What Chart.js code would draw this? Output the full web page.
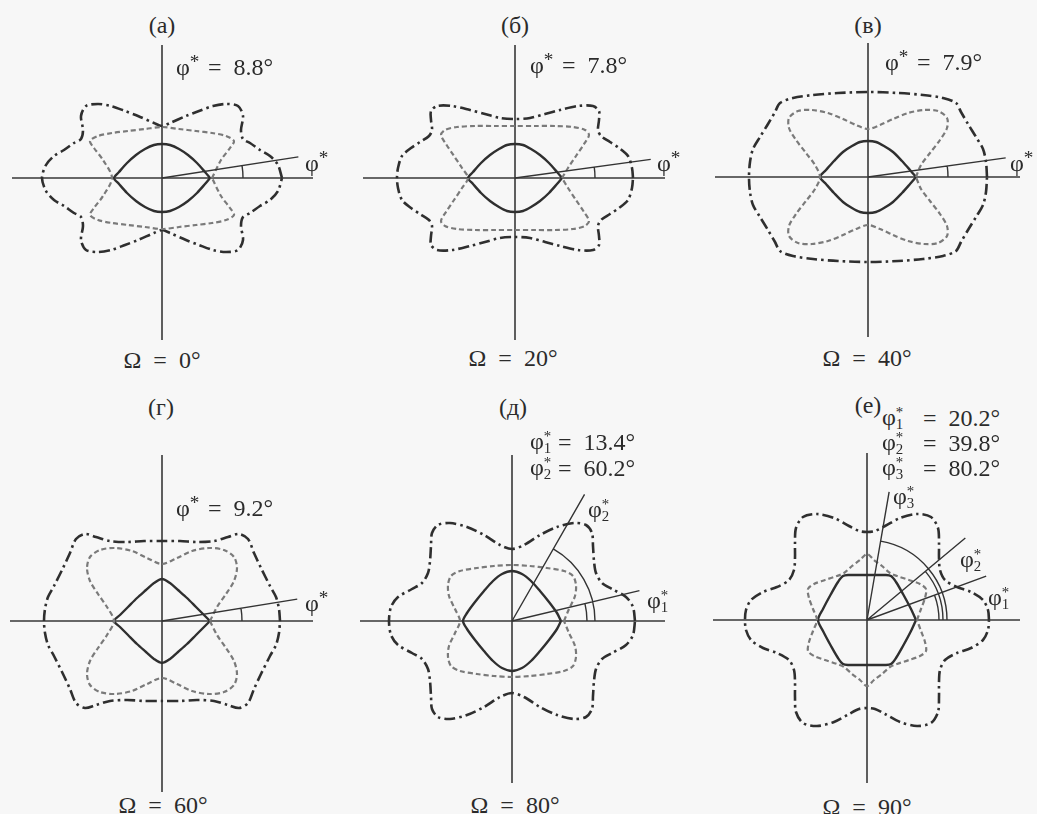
<!DOCTYPE html>
<html>
<head>
<meta charset="utf-8">
<title>Ω</title>
<script src="https://cdn.jsdelivr.net/npm/chart.js@4.4.1/dist/chart.umd.min.js"></script>
<style>
  body { margin: 0; width: 1037px; height: 814px; position: relative; overflow: hidden;
         background: #f7f7f7; color: #2b2b2b; }
  .panel { position: absolute; }
  .lbl { position: absolute; font-family: "Liberation Serif", "DejaVu Serif", serif;
         font-size: 24px; line-height: 1; white-space: nowrap; word-spacing: 6px; }
  .st { font-size: 0.8em; position: relative; top: -0.35em; }
  .ix { display: inline-block; font-size: 0.62em; line-height: 0.8; vertical-align: -0.25em; text-align: center; }
  .ix span { display: block; }
</style>
</head>
<body>
<script>
// Angle of incidence Ω for each sheet
const omegaValues = [0, 20, 40, 60, 80, 90];

// Marked directions φ*, degrees
const phiA = [8.8];
const phiB = [7.8];
const phiC = [7.9];
const phiD = [9.2];
const phiE = [13.4, 60.2];
const phiF = [20.2, 39.8, 80.2];

// One quadrant of each closed curve, [x, y], from the +x axis round to the +y axis
const solidA   = [[48,0],[43,6],[35,15],[26,23],[17,29],[8,33],[0,34]];
const dashedA  = [[50,0],[59,18],[68,30],[72,37],[64,42],[50,45],[34,47],[17,49],[0,51]];
const dashDotA = [[120,0],[116,13],[108,22],[98,28],[88,35],[81,39],[79,48],[81,62],[76,72],[64,74],[51,72],[37,67],[24,62],[8,55],[0,52]];

const solidB   = [[47,0],[42,6],[34,15],[25,23],[16,29],[8,33],[0,34]];
const dashedB  = [[47,0],[53,10],[61,22],[69,34],[74,43],[70,48],[58,51],[40,52],[20,52],[0,52]];
const dashDotB = [[118,0],[117,10],[113,22],[104,30],[95,36],[86,42],[83,48],[84,58],[84,67],[78,72],[63,72],[45,68],[30,64],[15,60],[0,59]];

const solidC   = [[48,0],[42,7],[34,16],[25,25],[16,31],[8,35],[0,36]];
const dashedC  = [[48,0],[53,12],[62,24],[72,37],[79,49],[79,59],[70,66],[56,67],[40,64],[25,58],[12,52],[0,48]];
const dashDotC = [[119,0],[118,15],[115,28],[108,40],[100,53],[93,65],[88,74],[75,79],[55,82],[30,84],[0,85]];

const solidD   = [[48,0],[42,6],[34,14],[25,23],[16,31],[8,38],[0,42]];
const dashedD  = [[48,0],[55,14],[64,27],[72,40],[75,53],[72,64],[62,71],[47,73],[30,70],[15,63],[0,57]];
const dashDotD = [[118,0],[117,12],[114,24],[108,35],[99,53],[92,68],[86,82],[77,87],[66,84],[52,80],[35,79],[18,80],[0,80]];

const solidE   = [[49,0],[45,8],[37,19],[28,30],[19,40],[10,47],[0,50]];
const dashedE  = [[52,0],[57,12],[63,25],[64,36],[61,45],[52,50],[35,53],[18,55],[0,56]];
const dashDotE = [[123,0],[121,14],[114,24],[100,32],[90,38],[84,48],[82,60],[81,75],[80,88],[74,96],[62,98],[45,94],[28,86],[12,76],[0,72]];

const solidF   = [[49,0],[44,11],[36,26],[29,38],[24,44],[18,45],[9,45],[0,45]];
const dashedF  = [[50,0],[54,11],[58,22],[59,31],[53,36],[42,40],[30,44],[23,47],[15,54],[7,60],[0,66]];
const dashDotF = [[122,0],[121,10],[116,20],[104,28],[90,33],[78,40],[73,50],[72,62],[72,77],[71,92],[64,103],[50,106],[33,102],[18,94],[8,89],[0,88]];

// layout: centre, axis reach [left, right, up, down], ray lengths, arc radii, label spots
const panels = [
  { title: '(а)', omega: omegaValues[0], phi: phiA, solid: solidA, dashed: dashedA, dashDot: dashDotA,
    cx: 162, cy: 178, reach: [150, 151, 133, 162], rays: [138], arcs: [81],
    titleAt: [162, 25], valAt: [176, 67], eqGap: 32, rayLbl: [[305, 163]], omegaAt: [162, 360] },
  { title: '(б)', omega: omegaValues[1], phi: phiB, solid: solidB, dashed: dashedB, dashDot: dashDotB,
    cx: 515, cy: 178, reach: [152, 150, 133, 162], rays: [137], arcs: [80],
    titleAt: [515, 25], valAt: [530, 65], eqGap: 32, rayLbl: [[657, 163]], omegaAt: [513, 358] },
  { title: '(в)', omega: omegaValues[2], phi: phiC, solid: solidC, dashed: dashedC, dashDot: dashDotC,
    cx: 868, cy: 177, reach: [153, 152, 134, 160], rays: [139], arcs: [80],
    titleAt: [868, 25], valAt: [885, 62], eqGap: 32, rayLbl: [[1010, 163]], omegaAt: [867, 358] },
  { title: '(г)', omega: omegaValues[3], phi: phiD, solid: solidD, dashed: dashedD, dashDot: dashDotD,
    cx: 162, cy: 621, reach: [152, 151, 166, 171], rays: [137], arcs: [80],
    titleAt: [161, 407], valAt: [176, 508], eqGap: 32, rayLbl: [[305, 603]], omegaAt: [163, 805] },
  { title: '(д)', omega: omegaValues[4], phi: phiE, solid: solidE, dashed: dashedE, dashDot: dashDotE,
    cx: 512, cy: 621, reach: [152, 153, 166, 162], rays: [131, 146], arcs: [75, 83],
    titleAt: [513, 407], valAt: [530, 442], eqGap: 28, rayLbl: [[647, 601], [588, 510]], omegaAt: [515, 805] },
  { title: '(е)', omega: omegaValues[5], phi: phiF, solid: solidF, dashed: dashedF, dashDot: dashDotF,
    cx: 867, cy: 620, reach: [154, 153, 167, 163], rays: [127, 128, 130], arcs: [72, 76, 80],
    titleAt: [868, 405], valAt: [882, 418], eqGap: 41, rayLbl: [[988, 598], [960, 560], [893, 497]], omegaAt: [867, 807] }
];

// reflect a first-quadrant arc round the other three quadrants into a closed loop
function closeLoop(q) {
  const q1 = q.map(([x, y]) => ({ x, y }));
  const q2 = q.slice(0, -1).reverse().map(([x, y]) => ({ x: -x, y }));
  const q3 = q.slice(1).map(([x, y]) => ({ x: -x, y: -y }));
  const q4 = q.slice(0, -1).reverse().map(([x, y]) => ({ x, y: -y }));
  return q1.concat(q2, q3, q4);
}

function phiHtml(idx) {
  if (idx === null) return 'φ<span class="st">*</span>';
  return 'φ<span class="ix"><span>*</span><span>' + idx + '</span></span>';
}

function addText(html, x, y, centred) {
  const d = document.createElement('div');
  d.className = 'lbl';
  d.innerHTML = html;
  d.style.left = x + 'px';
  d.style.top = y + 'px';
  d.style.transform = centred ? 'translate(-50%, -50%)' : 'translateY(-50%)';
  document.body.appendChild(d);
}

// axes cross, φ* rays and the angle arcs
function marksPlugin(p) {
  return {
    id: 'marks',
    beforeDatasetsDraw(chart) {
      const { ctx, chartArea: a, scales: { x, y } } = chart;
      const x0 = x.getPixelForValue(0), y0 = y.getPixelForValue(0);
      ctx.save();
      ctx.strokeStyle = '#383838';
      ctx.lineWidth = 1.6;
      ctx.beginPath();
      ctx.moveTo(a.left, y0); ctx.lineTo(a.right, y0);
      ctx.moveTo(x0, a.top); ctx.lineTo(x0, a.bottom);
      ctx.stroke();
      ctx.restore();
    },
    afterDatasetsDraw(chart) {
      const { ctx, scales: { x, y } } = chart;
      const x0 = x.getPixelForValue(0), y0 = y.getPixelForValue(0);
      ctx.save();
      ctx.strokeStyle = '#333';
      ctx.lineWidth = 1.4;
      ctx.beginPath();
      p.phi.forEach((deg, i) => {
        const t = deg * Math.PI / 180;
        const len = p.rays[i];
        ctx.moveTo(x0, y0);
        ctx.lineTo(x.getPixelForValue(len * Math.cos(t)), y.getPixelForValue(len * Math.sin(t)));
        const r = x.getPixelForValue(p.arcs[i]) - x0;
        ctx.moveTo(x0 + r, y0);
        ctx.arc(x0, y0, r, 0, -t, true);
      });
      ctx.stroke();
      ctx.restore();
    }
  };
}

panels.forEach(p => {
  const [l, r, u, d] = p.reach;
  const box = document.createElement('div');
  box.className = 'panel';
  box.style.left = (p.cx - l) + 'px';
  box.style.top = (p.cy - u) + 'px';
  const canvas = document.createElement('canvas');
  canvas.width = l + r;
  canvas.height = u + d;
  box.appendChild(canvas);
  document.body.appendChild(box);

  const line = { showLine: true, pointRadius: 0, fill: false, tension: 0.3 };
  new Chart(canvas, {
    type: 'scatter',
    data: {
      datasets: [
        { ...line, data: closeLoop(p.dashed), borderColor: '#7a7a7a', borderWidth: 2.2, borderDash: [5, 3] },
        { ...line, data: closeLoop(p.dashDot), borderColor: '#2f2f2f', borderWidth: 2.6, borderDash: [11, 4, 2.5, 4] },
        { ...line, data: closeLoop(p.solid), borderColor: '#2f2f2f', borderWidth: 2.4 }
      ]
    },
    options: {
      responsive: false,
      animation: false,
      devicePixelRatio: 1,
      events: [],
      layout: { padding: 0 },
      plugins: { legend: { display: false }, tooltip: { enabled: false } },
      scales: {
        x: { type: 'linear', min: -l, max: r, display: false },
        y: { type: 'linear', min: -d, max: u, display: false }
      }
    },
    plugins: [marksPlugin(p)]
  });

  addText(p.title, p.titleAt[0], p.titleAt[1], true);
  addText('Ω = ' + p.omega + '°', p.omegaAt[0], p.omegaAt[1], true);

  const many = p.phi.length > 1;
  const rowGap = p.phi.length > 2 ? 25 : 26;
  p.phi.forEach((deg, i) => {
    const y = p.valAt[1] + i * rowGap;
    addText(phiHtml(many ? i + 1 : null), p.valAt[0], y, false);
    addText('= ' + deg.toFixed(1) + '°', p.valAt[0] + p.eqGap, y, false);
    addText(phiHtml(many ? i + 1 : null), p.rayLbl[i][0], p.rayLbl[i][1], false);
  });
});
</script>
</body>
</html>
